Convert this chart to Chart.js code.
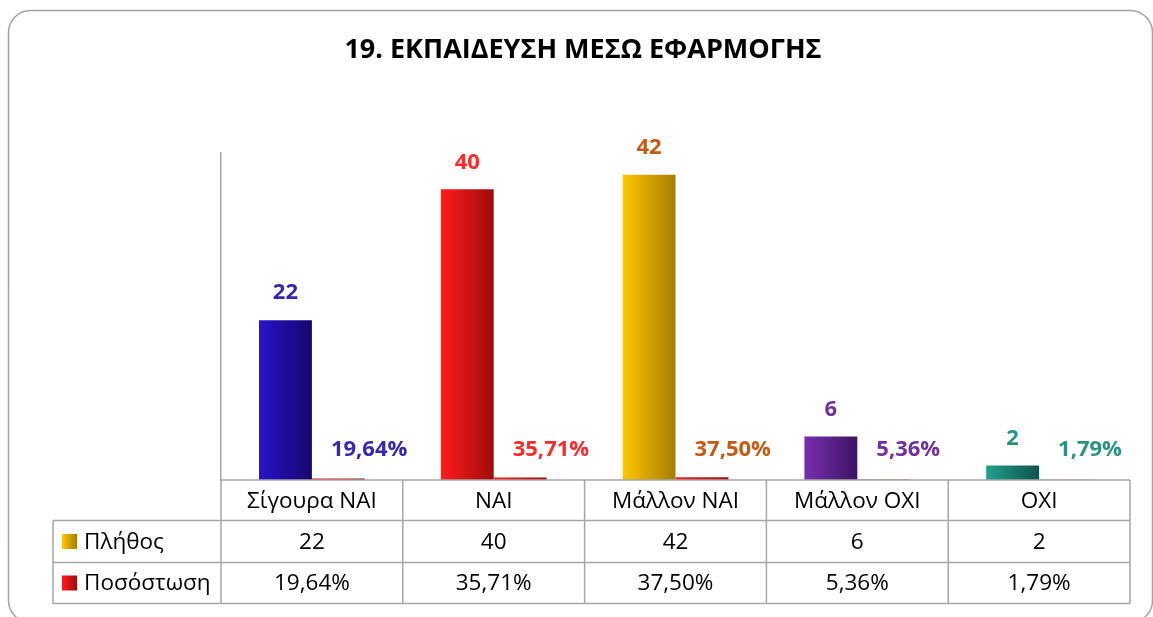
<!DOCTYPE html>
<html><head><meta charset="utf-8">
<script src="https://cdn.jsdelivr.net/npm/chart.js@4/dist/chart.umd.min.js"></script>
<style>html,body{margin:0;padding:0;background:#fff}#wrap{width:1153px;height:617px;position:relative}</style>
</head><body><div id="wrap"><canvas id="c" width="1153" height="617"></canvas></div>
<script>
const titleText = '19. ΕΚΠΑΙΔΕΥΣΗ ΜΕΣΩ ΕΦΑΡΜΟΓΗΣ';
const categories = ['Σίγουρα ΝΑΙ', 'ΝΑΙ', 'Μάλλον ΝΑΙ', 'Μάλλον ΟΧΙ', 'ΟΧΙ'];
const seriesNames = ['Πλήθος', 'Ποσόστωση'];
const counts = [22, 40, 42, 6, 2];
const percents = [19.64, 35.71, 37.50, 5.36, 1.79];
const countLabels = ['22', '40', '42', '6', '2'];
const percentLabels = ['19,64%', '35,71%', '37,50%', '5,36%', '1,79%'];
const yMax = 45;

// styles
const countGrad = [['#2A12C8', '#15066E'], ['#FF1C1C', '#A00B0B'], ['#FFC800', '#A87C00'], ['#7A2EB2', '#3B1460'], ['#22A08E', '#0F5249']];
const labelColors = ['#3526B4', '#FF2A2A', '#C55A11', '#7030A0', '#2A9282'];
const pctGrad = ['#FF1C1C', '#A00B0B'];
const catPct = 0.582;
const FONT = "'Open Sans', 'Noto Sans', sans-serif";

function hGrad(ctx, x0, x1, c) {
  const g = ctx.createLinearGradient(x0, 0, x1, 0);
  g.addColorStop(0, c[0]); g.addColorStop(1, c[1]);
  return g;
}
function barGrad(c, which) {
  const chart = c.chart, xs = chart.scales.x;
  const i = c.dataIndex || 0;
  const cols = which === 0 ? countGrad[i] : pctGrad;
  if (!xs || !chart.chartArea || xs.width <= 0) return cols[0];
  const catW = xs.width / categories.length;
  const center = xs.getPixelForValue(i);
  const bw = catW * catPct / 2;
  const x0 = which === 0 ? center - bw : center;
  return hGrad(chart.ctx, x0, x0 + bw, cols);
}

const framePlugin = {
  id: 'frame',
  beforeDraw(chart) {
    const ctx = chart.ctx;
    ctx.save();
    ctx.fillStyle = '#fff';
    ctx.fillRect(0, 0, chart.width, chart.height);
    ctx.strokeStyle = '#A3A3A3';
    ctx.lineWidth = 1.5;
    ctx.beginPath();
    ctx.roundRect(8.5, 10.5, 1144, 612, 22);
    ctx.stroke();
    ctx.restore();
  }
};

const labelPlugin = {
  id: 'labels',
  afterDatasetsDraw(chart) {
    const ctx = chart.ctx;
    const m0 = chart.getDatasetMeta(0), m1 = chart.getDatasetMeta(1);
    const base = chart.scales.y.getPixelForValue(0);
    ctx.save();
    ctx.font = 'bold 22px ' + FONT;
    ctx.textBaseline = 'middle';
    m0.data.forEach((el, i) => {
      ctx.fillStyle = labelColors[i];
      ctx.textAlign = 'center';
      ctx.fillText(countLabels[i], el.x, el.y - 27);
    });
    m1.data.forEach((el, i) => {
      ctx.fillStyle = labelColors[i];
      ctx.textAlign = 'left';
      ctx.fillText(percentLabels[i], el.x - el.width / 2 + 19, base - 30);
    });
    ctx.restore();
  }
};

const tablePlugin = {
  id: 'table',
  afterDraw(chart) {
    const ctx = chart.ctx, xs = chart.scales.x, ca = chart.chartArea;
    const n = categories.length;
    const catW = xs.width / n;
    const edges = [];
    for (let i = 0; i < n; i++) edges.push(xs.getPixelForValue(i) - catW / 2);
    edges.push(xs.getPixelForValue(n - 1) + catW / 2);
    const y0 = ca.bottom, y1 = y0 + 40.5, y2 = y1 + 42, y3 = y2 + 41;
    const leftX = 53;
    ctx.save();
    ctx.strokeStyle = '#A6A6A6';
    ctx.lineWidth = 1.5;
    ctx.beginPath();
    ctx.moveTo(edges[0], y0); ctx.lineTo(edges[n], y0);
    [y1, y2, y3].forEach(y => { ctx.moveTo(leftX, y); ctx.lineTo(edges[n], y); });
    edges.forEach(x => { ctx.moveTo(x, y0); ctx.lineTo(x, y3); });
    ctx.moveTo(leftX, y1); ctx.lineTo(leftX, y3);
    ctx.stroke();

    ctx.fillStyle = '#000';
    ctx.font = '22.5px ' + FONT;
    ctx.textAlign = 'center';
    ctx.textBaseline = 'middle';
    for (let i = 0; i < n; i++) {
      const cx = xs.getPixelForValue(i);
      ctx.fillText(categories[i], cx, (y0 + y1) / 2 + 1);
      ctx.fillText(String(counts[i]), cx, (y1 + y2) / 2 + 1);
      ctx.fillText(percentLabels[i], cx, (y2 + y3) / 2 + 1);
    }
    // row headers with legend keys
    const keys = [['#FFC800', '#A87C00'], pctGrad];
    [[y1, y2], [y2, y3]].forEach((r, k) => {
      const cy = (r[0] + r[1]) / 2;
      ctx.fillStyle = hGrad(ctx, 62, 77, keys[k]);
      ctx.fillRect(62, cy - 7.5, 15, 15);
      ctx.fillStyle = '#000';
      ctx.textAlign = 'left';
      ctx.fillText(seriesNames[k], 84, cy + 1);
    });
    ctx.restore();
  }
};

new Chart(document.getElementById('c'), {
  type: 'bar',
  data: {
    labels: categories,
    datasets: [
      { label: seriesNames[0], data: counts, backgroundColor: c => barGrad(c, 0), borderWidth: 0 },
      { label: seriesNames[1], data: percents.map(p => p / 100), backgroundColor: c => barGrad(c, 1), borderWidth: 0 }
    ]
  },
  options: {
    responsive: false,
    animation: false,
    events: [],
    layout: { padding: { left: 36, right: 23, top: 34, bottom: 0 } },
    datasets: { bar: { categoryPercentage: catPct, barPercentage: 1 } },
    plugins: {
      legend: { display: false },
      tooltip: { enabled: false },
      title: {
        display: true, text: titleText, color: '#000',
        font: { family: FONT, size: 27, weight: 'bold', lineHeight: 1.2 },
        padding: { top: 0, bottom: 86.6 }
      }
    },
    scales: {
      x: {
        display: true,
        grid: { display: false },
        ticks: { display: false },
        border: { display: false },
        afterFit: s => { s.height = 137; }
      },
      y: {
        display: true, min: 0, max: yMax,
        grid: { display: false },
        ticks: { display: false },
        border: { display: true, color: '#A6A6A6', width: 1.5 },
        afterFit: s => { s.width = 185; }
      }
    }
  },
  plugins: [framePlugin, labelPlugin, tablePlugin]
});
</script>
</body></html>
